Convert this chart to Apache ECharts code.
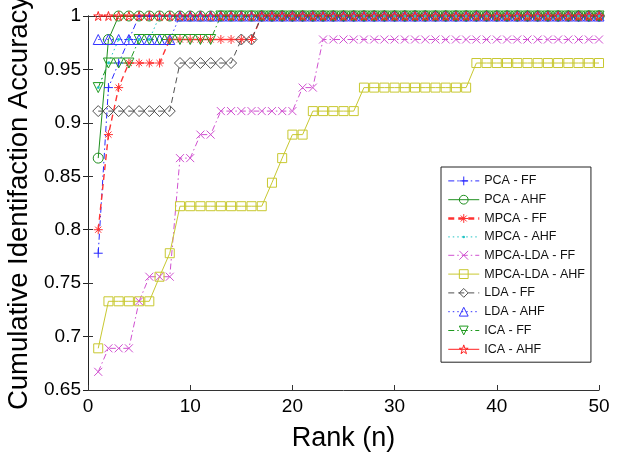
<!DOCTYPE html>
<html>
<head>
<meta charset="utf-8">
<script src="https://cdn.jsdelivr.net/npm/echarts@6/dist/echarts.min.js"></script>
<style>
html,body{margin:0;padding:0;background:#fff;}
#c{width:621px;height:452px;}
</style>
</head>
<body>
<div id="c"></div>
<script>
const rank = [1,2,3,4,5,6,7,8,9,10,11,12,13,14,15,16,17,18,19,20,21,22,23,24,25,26,27,28,29,30,31,32,33,34,35,36,37,38,39,40,41,42,43,44,45,46,47,48,49,50];

const pcaFF = [0.778,0.933,0.956,0.978,1,1,1,1,1,1,
  1,1,1,1,1,1,1,1,1,1, 1,1,1,1,1,1,1,1,1,1, 1,1,1,1,1,1,1,1,1,1, 1,1,1,1,1,1,1,1,1,1];
const pcaAHF = [0.867,0.978,1,1,1,1,1,1,1,1,
  1,1,1,1,1,1,1,1,1,1, 1,1,1,1,1,1,1,1,1,1, 1,1,1,1,1,1,1,1,1,1, 1,1,1,1,1,1,1,1,1,1];
const mpcaFF = [0.8,0.889,0.933,0.956,0.956,0.956,0.956,0.978,0.978,0.978,
  0.978,0.978,0.978,0.978,0.978,0.978,1,1,1,1, 1,1,1,1,1,1,1,1,1,1, 1,1,1,1,1,1,1,1,1,1, 1,1,1,1,1,1,1,1,1,1];
const mpcaAHF = [0.933,0.956,0.978,0.978,0.978,0.978,1,1,1,1,
  1,1,1,1,1,1,1,1,1,1, 1,1,1,1,1,1,1,1,1,1, 1,1,1,1,1,1,1,1,1,1, 1,1,1,1,1,1,1,1,1,1];
const mpcaLdaFF = [0.667,0.689,0.689,0.689,0.733,0.756,0.756,0.756,0.867,0.867,
  0.889,0.889,0.911,0.911,0.911,0.911,0.911,0.911,0.911,0.911,
  0.933,0.933,0.978,0.978,0.978,0.978,0.978,0.978,0.978,0.978,
  0.978,0.978,0.978,0.978,0.978,0.978,0.978,0.978,0.978,0.978,
  0.978,0.978,0.978,0.978,0.978,0.978,0.978,0.978,0.978,0.978];
const mpcaLdaAHF = [0.689,0.733,0.733,0.733,0.733,0.733,0.756,0.778,0.822,0.822,
  0.822,0.822,0.822,0.822,0.822,0.822,0.822,0.844,0.867,0.889,
  0.889,0.911,0.911,0.911,0.911,0.911,0.933,0.933,0.933,0.933,
  0.933,0.933,0.933,0.933,0.933,0.933,0.933,0.956,0.956,0.956,
  0.956,0.956,0.956,0.956,0.956,0.956,0.956,0.956,0.956,0.956];
const ldaFF = [0.911,0.911,0.911,0.911,0.911,0.911,0.911,0.911,0.956,0.956,
  0.956,0.956,0.956,0.956,0.978,0.978,1,1,1,1, 1,1,1,1,1,1,1,1,1,1, 1,1,1,1,1,1,1,1,1,1, 1,1,1,1,1,1,1,1,1,1];
const ldaAHF = [0.978,0.978,0.978,0.978,0.978,0.978,0.978,0.978,1,1,
  1,1,1,1,1,1,1,1,1,1, 1,1,1,1,1,1,1,1,1,1, 1,1,1,1,1,1,1,1,1,1, 1,1,1,1,1,1,1,1,1,1];
const icaFF = [0.933,0.956,0.956,0.956,0.978,0.978,0.978,0.978,0.978,0.978,
  0.978,0.978,1,1,1,1,1,1,1,1, 1,1,1,1,1,1,1,1,1,1, 1,1,1,1,1,1,1,1,1,1, 1,1,1,1,1,1,1,1,1,1];
const icaAHF = [1,1,1,1,1,1,1,1,1,1, 1,1,1,1,1,1,1,1,1,1, 1,1,1,1,1,1,1,1,1,1, 1,1,1,1,1,1,1,1,1,1, 1,1,1,1,1,1,1,1,1,1];

const seriesNames = ['PCA - FF','PCA - AHF','MPCA - FF','MPCA - AHF','MPCA-LDA - FF','MPCA-LDA - AHF','LDA - FF','LDA - AHF','ICA - FF','ICA - AHF'];
const seriesValues = [pcaFF,pcaAHF,mpcaFF,mpcaAHF,mpcaLdaFF,mpcaLdaAHF,ldaFF,ldaAHF,icaFF,icaAHF];
const xTicks = [0,10,20,30,40,50];
const yTicks = [0.65,0.7,0.75,0.8,0.85,0.9,0.95,1];

const PLUS = 'path://M5,0L5,10M0,5L10,5';
const CROSS = 'path://M0,0L10,10M10,0L0,10';
const ASTER = 'path://M5,0L5,10M0,5L10,5M1.6,1.6L8.4,8.4M8.4,1.6L1.6,8.4';
const TRIDOWN = 'path://M0,0L10,0L5,9Z';
const STAR = 'path://M5,0L6.18,3.82L10,3.82L6.91,6.18L8.09,10L5,7.64L1.91,10L3.09,6.18L0,3.82L3.82,3.82Z';
const DOTSYM = 'path://M0,0M10,10M3.6,5A1.4,1.4,0,1,0,6.4,5A1.4,1.4,0,1,0,3.6,5Z';

const DASHDOT = [6,3,1.5,3];
const DASH = [6,4];
const DOT = [1.5,3];

const styles = [
  {c:'#2a2aff', t:DASHDOT, s:PLUS, z:9, fill:false},
  {c:'#1f8f1f', t:'solid', s:'circle', z:10, fill:false},
  {c:'#ff3333', t:DASH, s:ASTER, z:9, fill:false, w:1.4, lw:2.5},
  {c:'#22c4c4', t:DOT, s:DOTSYM, z:10, fill:true},
  {c:'#d050d0', t:DASHDOT, s:CROSS, z:8, fill:false},
  {c:'#c8c830', t:'solid', s:'rect', z:9, fill:false},
  {c:'#505050', t:DASH, s:'diamond', z:11, fill:false},
  {c:'#3333ff', t:DOT, s:'triangle', z:10, fill:false},
  {c:'#1f9a1f', t:DASHDOT, s:TRIDOWN, z:10, fill:false},
  {c:'#ff2020', t:'solid', s:STAR, z:9, fill:false}
];

const series = seriesNames.map((name, i) => {
  const st = styles[i];
  return {
    name: name,
    type: 'line',
    data: rank.map((r, k) => [r, seriesValues[i][k]]),
    symbol: st.s,
    symbolSize: st.z,
    showAllSymbol: true,
    clip: false,
    animation: false,
    lineStyle: {color: st.c, width: st.w || 1, type: st.t},
    itemStyle: st.fill ? {color: st.c, borderWidth: 0} : {color: 'none', borderColor: st.c, borderWidth: 1},
    emphasis: {disabled: true}
  };
});

const legendData = seriesNames.map((name, i) => {
  const st = styles[i];
  return {
    name: name,
    itemStyle: st.fill ? {color: st.c, borderWidth: 0} : {color: 'none', borderColor: st.c, borderWidth: 1},
    lineStyle: {color: st.c, width: st.lw || 1, type: st.t}
  };
});

const axisColor = '#333';
const fontFam = 'Liberation Sans, Arial, Helvetica, sans-serif';

const chart = echarts.init(document.getElementById('c'), null, {renderer: 'canvas'});
chart.setOption({
  backgroundColor: '#fff',
  animation: false,
  textStyle: {fontFamily: fontFam},
  grid: {left: 88, right: 22, top: 16, bottom: 62, containLabel: false, outerBoundsMode: 'none'},
  legend: {
    data: legendData,
    orient: 'vertical',
    left: 441, top: 167,
    itemWidth: 31, itemHeight: 11, itemGap: 5,
    padding: [7, 6, 6, 6],
    borderColor: '#222', borderWidth: 1,
    backgroundColor: '#fff',
    textStyle: {fontSize: 12.5, color: '#111', fontFamily: fontFam},
    selectedMode: false
  },
  xAxis: [{
    type: 'value', min: 0, max: 50, interval: 10,
    name: 'Rank (n)', nameLocation: 'middle', nameGap: 35,
    nameTextStyle: {fontSize: 27, color: '#000', fontFamily: fontFam},
    axisLine: {lineStyle: {color: axisColor}},
    axisTick: {inside: true, length: 5, lineStyle: {color: axisColor}},
    axisLabel: {fontSize: 19, color: '#000', margin: 7, customValues: xTicks},
    splitLine: {show: false}
  }, {
    type: 'value', min: 0, max: 50, interval: 10, position: 'top',
    axisLine: {show: true, lineStyle: {color: axisColor}},
    axisTick: {inside: true, length: 5, lineStyle: {color: axisColor}},
    axisLabel: {show: false}, splitLine: {show: false}
  }],
  yAxis: [{
    type: 'value', min: 0.65, max: 1, interval: 0.05,
    name: 'Cumulative Identifaction Accuracy', nameLocation: 'middle', nameGap: 51,
    nameTextStyle: {fontSize: 27.5, color: '#000', fontFamily: fontFam},
    axisLine: {show: true, lineStyle: {color: axisColor}},
    axisTick: {show: true, inside: true, length: 5, lineStyle: {color: axisColor}},
    axisLabel: {fontSize: 19, color: '#000', margin: 7},
    splitLine: {show: false}
  }, {
    type: 'value', min: 0.65, max: 1, interval: 0.05, position: 'right',
    axisLine: {show: true, lineStyle: {color: '#222'}},
    axisTick: {show: true, inside: true, length: 5, lineStyle: {color: '#222'}},
    axisLabel: {show: false}, splitLine: {show: false}
  }],
  series: series
});
</script>
</body>
</html>
